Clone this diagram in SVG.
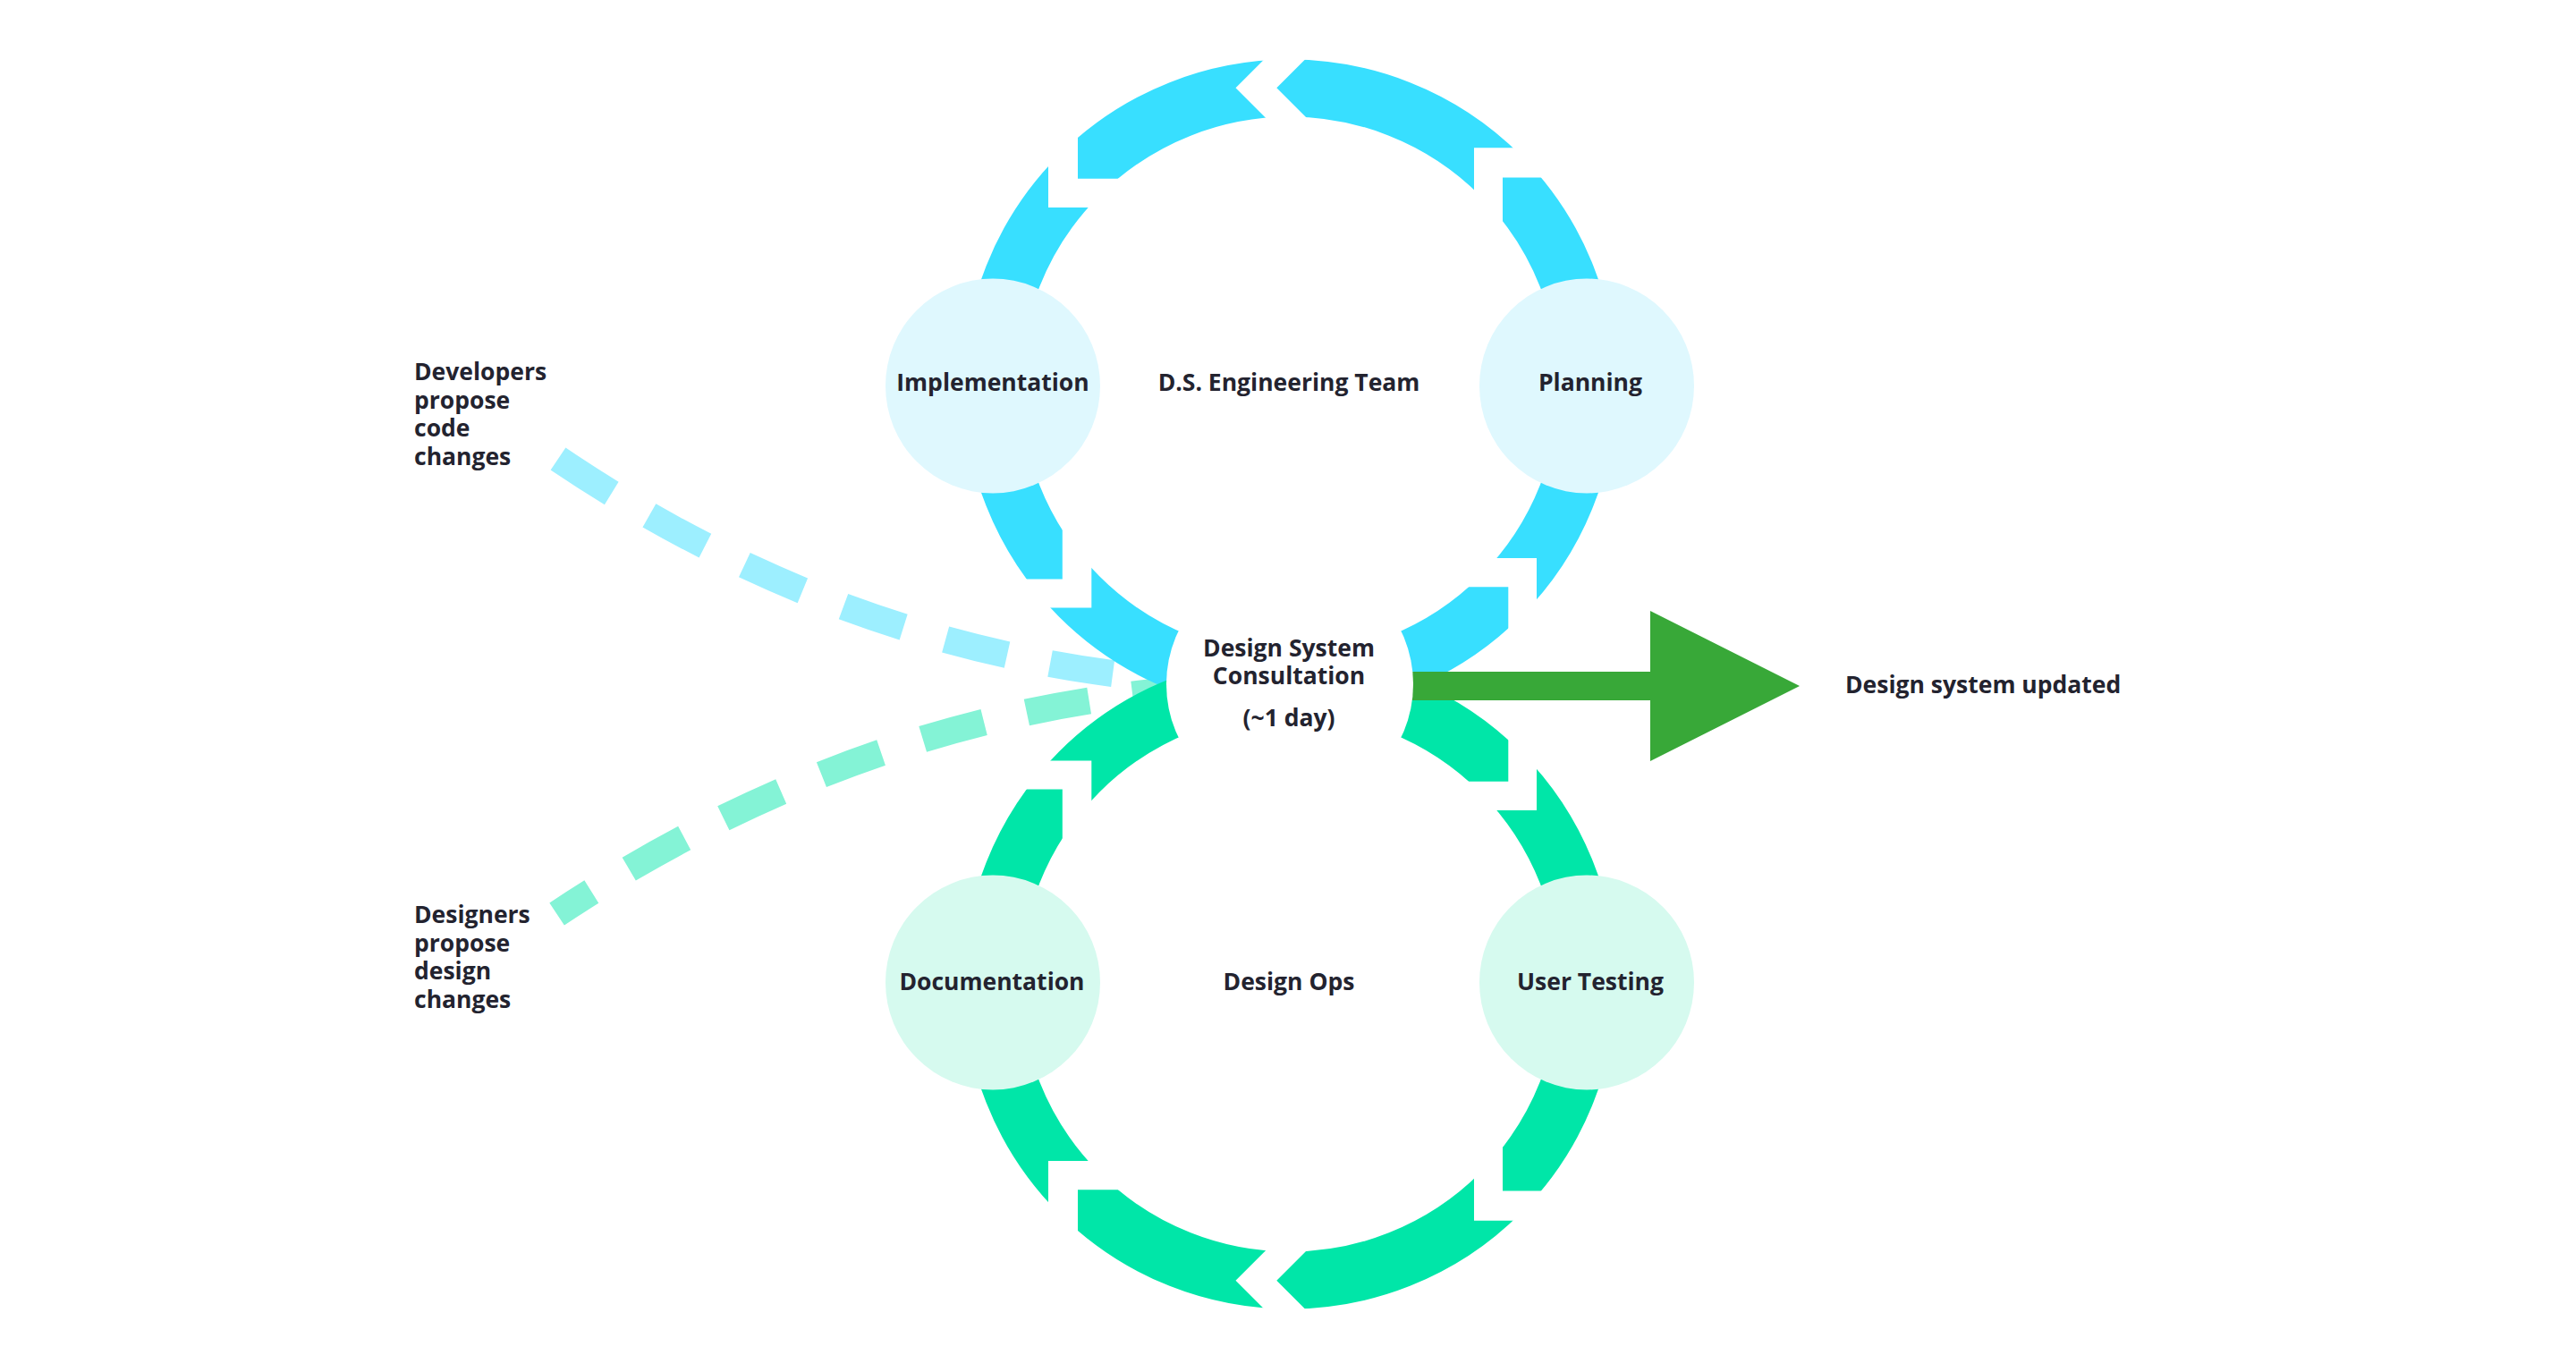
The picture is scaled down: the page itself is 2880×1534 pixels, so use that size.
<svg xmlns="http://www.w3.org/2000/svg" width="2880" height="1534" viewBox="0 0 2880 1534">
<style>
.t{font-family:"Open Sans","Liberation Sans",sans-serif;font-weight:700;font-size:26.5px;fill:#23232f}
.m{text-anchor:middle}
.dash{fill:none;stroke-width:30;stroke-dasharray:71 49}
.ring{fill:none;stroke-width:64}
</style>
<defs>
<g id="gaps">
<polygon points="1648,165.3 1740,165.3 1740,198.4 1680,198.4 1680,270 1648,270"/>
<polygon points="1381.5,98.3 1431.5,48.3 1477.3,48.3 1427.3,98.3 1477.3,148.3 1431.5,148.3"/>
<polygon points="1172,232 1172,140 1205,140 1205,199.8 1280,199.8 1280,232"/>
<polygon points="1220.3,679.6 1120,679.6 1120,647.4 1187.8,647.4 1187.8,570 1220.3,570"/>
<polygon points="1718,624 1718,720 1686.3,720 1686.3,656.2 1620,656.2 1620,624"/>
</g>
<mask id="mTop" maskUnits="userSpaceOnUse" x="0" y="0" width="2880" height="1534">
<rect x="0" y="0" width="2880" height="1534" fill="#fff"/>
<use href="#gaps" fill="#000"/>
</mask>
<mask id="mBot" maskUnits="userSpaceOnUse" x="0" y="0" width="2880" height="1534">
<rect x="0" y="0" width="2880" height="1534" fill="#fff"/>
<use href="#gaps" fill="#000" transform="matrix(1 0 0 -1 0 1530)"/>
</mask>
</defs>
<rect x="0" y="0" width="2880" height="1534" fill="#ffffff"/>
<g id="connectors">
<path id="dev-flow" class="dash" stroke="#9defff" d="M624,513 Q999,766 1440,766"/>
<path id="des-flow" class="dash" stroke="#84f3d6" stroke-dashoffset="25" d="M622.6,1022 Q1009,766 1440,766"/>
<circle id="ds-cycle" class="ring" stroke="#38dfff" cx="1442" cy="431.5" r="333" mask="url(#mTop)"/>
<circle id="ops-cycle" class="ring" stroke="#00e6a8" cx="1442" cy="1098.5" r="333" mask="url(#mBot)"/>
<polygon id="updated-arrow" fill="#38a838" points="1442,751 1845,751 1845,683 2012,767 1845,851 1845,783 1442,783"/>
</g>
<g id="implementation">
<circle cx="1110" cy="431.5" r="120" fill="#dff8fe"/>
<text class="t m" x="1110" y="437">Implementation</text>
</g>
<g id="planning">
<circle cx="1774" cy="431.5" r="120" fill="#dff8fe"/>
<text class="t m" x="1778" y="437">Planning</text>
</g>
<g id="documentation">
<circle cx="1110" cy="1098.5" r="120" fill="#d6faef"/>
<text class="t m" x="1109" y="1107">Documentation</text>
</g>
<g id="user-testing">
<circle cx="1774" cy="1098.5" r="120" fill="#d6faef"/>
<text class="t m" x="1778" y="1107">User Testing</text>
</g>
<g id="consultation">
<circle cx="1442" cy="765" r="138" fill="#ffffff"/>
<text class="t m" x="1441" y="734">Design System</text>
<text class="t m" x="1441" y="765">Consultation</text>
<text class="t m" x="1441" y="812">(~1 day)</text>
</g>
<g id="ds-team">
<text class="t m" x="1441" y="437">D.S. Engineering Team</text>
</g>
<g id="design-ops">
<text class="t m" x="1441" y="1107">Design Ops</text>
</g>
<g id="developers">
<text class="t" x="463" y="425">Developers</text>
<text class="t" x="463" y="456.5">propose</text>
<text class="t" x="463" y="488">code</text>
<text class="t" x="463" y="519.5">changes</text>
</g>
<g id="designers">
<text class="t" x="463" y="1032">Designers</text>
<text class="t" x="463" y="1063.5">propose</text>
<text class="t" x="463" y="1095">design</text>
<text class="t" x="463" y="1127">changes</text>
</g>
<g id="system-updated">
<text class="t" x="2063" y="775">Design system updated</text>
</g>
</svg>
